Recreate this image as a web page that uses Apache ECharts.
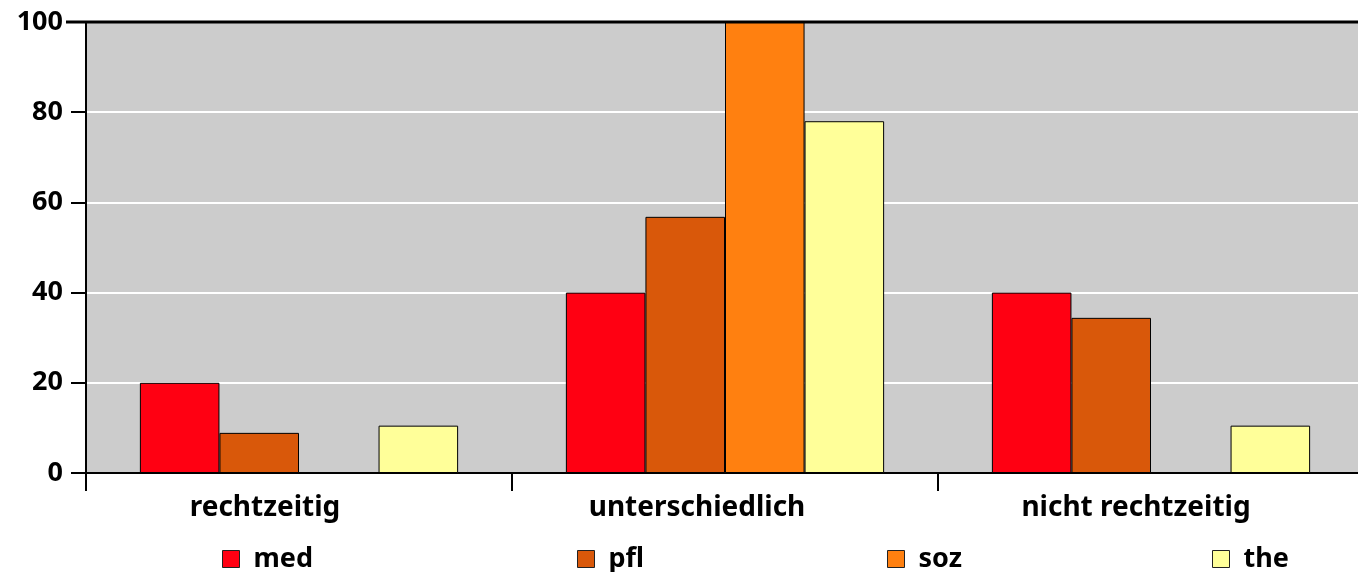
<!DOCTYPE html>
<html><head><meta charset="utf-8">
<script src="https://cdn.jsdelivr.net/npm/echarts@6/dist/echarts.min.js"></script>
<style>html,body{margin:0;padding:0;background:#fff}#c{width:1358px;height:572px}</style>
</head><body><div id="c"></div>
<script>
const categories = ['rechtzeitig', 'unterschiedlich', 'nicht rechtzeitig'];
const seriesNames = ['med', 'pfl', 'soz', 'the'];
const med = [20, 40, 40];
const pfl = [8.9, 56.8, 34.4];
const soz = [0, 100, 0];
const the = [10.5, 78, 10.5];
const yTicks = [0, 20, 40, 60, 80, 100];
const colors = ['#ff0012', '#d9580a', '#ff8010', '#ffff99'];
const values = [med, pfl, soz, the];
const legendLeft = [217, 572, 882, 1207];
const labelShift = [68, 56, 30];
const font = '"Noto Sans", sans-serif';

const rich = {};
labelShift.forEach((s, i) => {
  rich['c' + i] = {fontSize: 28, fontWeight: 'bold', color: '#000', fontFamily: font, padding: [0, s, 0, 0]};
});

const chart = echarts.init(document.getElementById('c'), null, {renderer: 'canvas'});
chart.setOption({
  animation: false,
  textStyle: {fontFamily: font},
  grid: {left: 86, width: 1278, top: 22, height: 451, outerBoundsMode: 'none', show: true, backgroundColor: '#cccccc', borderColor: '#000', borderWidth: 0},
  xAxis: {
    type: 'category', data: categories,
    axisLine: {lineStyle: {color: '#000', width: 2}},
    axisTick: {show: true, length: 18, lineStyle: {color: '#000', width: 2}},
    axisLabel: {color: '#000', fontSize: 28, fontWeight: 'bold', margin: 21, fontFamily: font,
      formatter: (v, i) => '{c' + i + '|' + v + '}', rich: rich}
  },
  yAxis: {
    type: 'value', min: yTicks[0], max: yTicks[yTicks.length - 1], interval: 20,
    axisLine: {show: true, lineStyle: {color: '#000', width: 2}},
    axisTick: {show: true, length: 15, lineStyle: {color: '#000', width: 2}},
    axisLabel: {color: '#000', fontSize: 27, fontWeight: 'bold', margin: 23, fontFamily: font},
    splitLine: {show: true, lineStyle: {color: '#ffffff', width: 2}}
  },
  legend: seriesNames.map((n, i) => ({
    data: [n], left: legendLeft[i], top: 540, itemWidth: 17, itemHeight: 17, itemGap: 0,
    icon: 'rect',
    textStyle: {fontSize: 27, fontWeight: 'bold', color: '#000', fontFamily: font, lineHeight: 28, padding: [0, 0, 0, 9]},
    itemStyle: {borderColor: '#222', borderWidth: 1}
  })),
  series: seriesNames.map((n, i) => ({
    name: n, type: 'bar', data: values[i], barGap: '0%', barCategoryGap: '25.3%',
    itemStyle: {color: colors[i], borderColor: '#000', borderWidth: 1}
  })),
  graphic: [
    {type: 'line', shape: {x1: 66, y1: 22, x2: 1358, y2: 22}, style: {stroke: '#000', lineWidth: 3}, z: 100},
    {type: 'line', shape: {x1: 86, y1: 473, x2: 86, y2: 491}, style: {stroke: '#000', lineWidth: 2}, z: 100}
  ]
});
</script></body></html>
